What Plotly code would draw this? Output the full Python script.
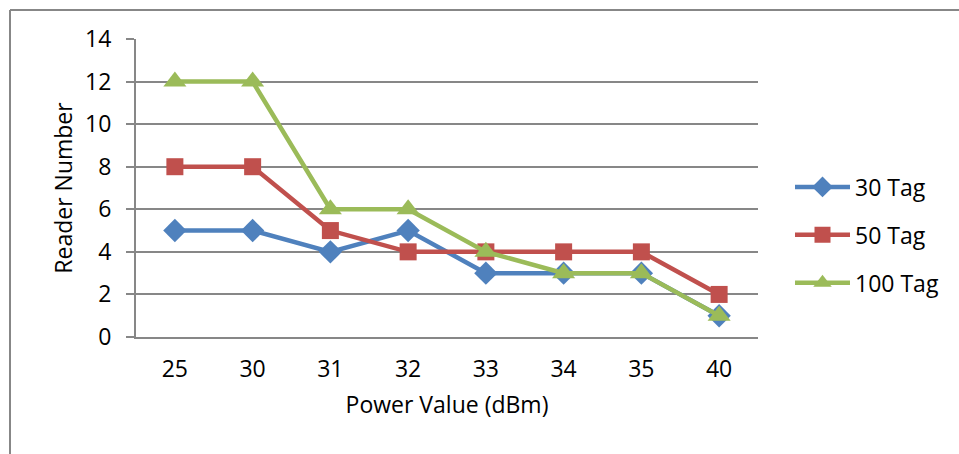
import plotly.graph_objects as go

categories = ["25", "30", "31", "32", "33", "34", "35", "40"]
tag30 = [5, 5, 4, 5, 3, 3, 3, 1]
tag50 = [8, 8, 5, 4, 4, 4, 4, 2]
tag100 = [12, 12, 6, 6, 4, 3, 3, 1]
series_names = ["30 Tag", "50 Tag", "100 Tag"]

W, H = 959, 454
L, R, T, B = 136, 758, 39, 337
pw, ph = R - L, B - T

FONT = "Open Sans, sans-serif"
GRAY = "#878787"
FS = 23

fig = go.Figure()
styles = [
    (tag30, "#4F81BD", "diamond", 18),
    (tag50, "#C0504D", "square", 17),
    (tag100, "#9BBB59", "triangle-up", 20),
]
for name, (vals, color, sym, sz) in zip(series_names, styles):
    fig.add_trace(go.Scatter(
        x=categories, y=vals, name=name, mode="lines+markers",
        line=dict(color=color, width=4.5),
        marker=dict(symbol=sym, size=sz, color=color),
        legendgroup=name,
    ))

fig.update_layout(
    width=W, height=H,
    margin=dict(l=L, r=W - R, t=T, b=H - B),
    paper_bgcolor="white", plot_bgcolor="white",
    font=dict(family=FONT, size=FS, color="black"),
    showlegend=True,
    legend=dict(
        x=(790 - L) / pw, y=(B - 235) / ph, xanchor="left", yanchor="middle",
        font=dict(size=FS), traceorder="grouped", tracegroupgap=15,
        itemwidth=55, bgcolor="rgba(0,0,0,0)",
    ),
    xaxis=dict(
        type="category", showgrid=False, showline=True, linecolor=GRAY,
        linewidth=2, ticks="", tickfont=dict(size=FS), ticklabelstandoff=10,
        title=dict(text="Power Value (dBm)", font=dict(size=FS), standoff=14),
        range=[-0.5, 7.5],
    ),
    yaxis=dict(
        range=[0, 14], dtick=2, showgrid=True, gridcolor=GRAY, gridwidth=1.5,
        showline=True, linecolor=GRAY, linewidth=2, ticks="outside",
        ticklen=8, tickcolor=GRAY, tickwidth=2, tickfont=dict(size=FS),
        ticklabelstandoff=10,
        title=dict(text="Reader Number", font=dict(size=FS), standoff=6),
        zeroline=False,
    ),
    shapes=[
        dict(type="line", xref="paper", yref="paper",
             x0=(10 - L) / pw, x1=(1000 - L) / pw,
             y0=(B - 10) / ph, y1=(B - 10) / ph,
             line=dict(color=GRAY, width=2)),
        dict(type="line", xref="paper", yref="paper",
             x0=(10 - L) / pw, x1=(10 - L) / pw,
             y0=(B - 10) / ph, y1=(B - 500) / ph,
             line=dict(color=GRAY, width=2)),
    ],
)

fig.write_html("out.html")
